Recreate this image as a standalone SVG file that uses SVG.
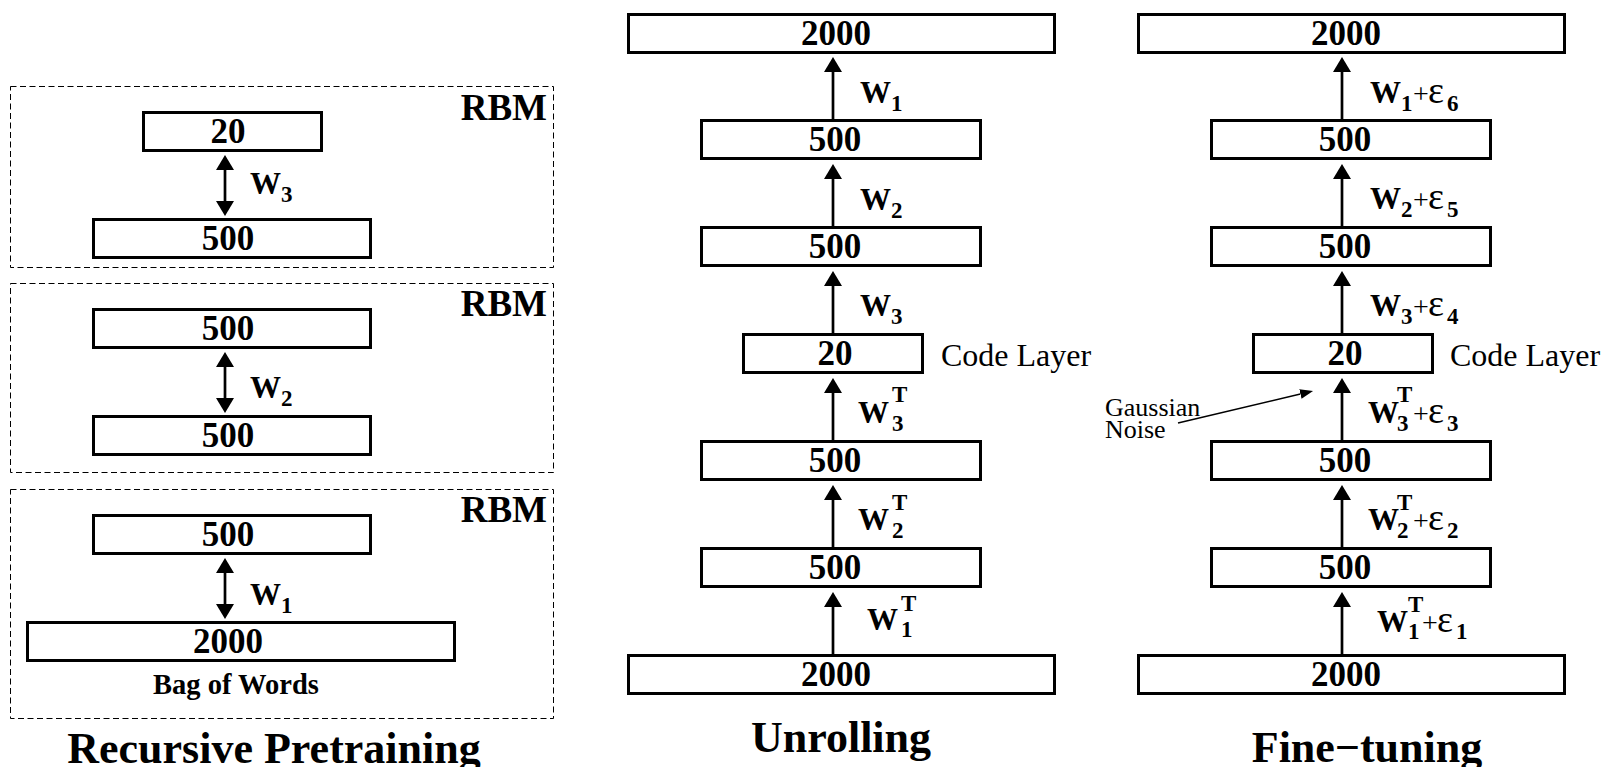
<svg xmlns="http://www.w3.org/2000/svg" width="1609" height="767" viewBox="0 0 1609 767">
<defs>
<style>
  .box{fill:#fff;stroke:#000;stroke-width:3}
  .rbm{fill:none;stroke:#000;stroke-width:1;stroke-dasharray:6 3.5}
  text{font-family:"Liberation Serif","Times New Roman",serif;fill:#000}
  .num{font-weight:bold;font-size:35px;text-anchor:middle}
  .w{font-weight:bold;font-size:31px}
  .s{font-weight:bold;font-size:23px}
  .plus{font-size:28px}
  .eps{font-size:38px}
  .tag{font-weight:bold;font-size:37px;text-anchor:end}
  .title{font-weight:bold;font-size:44px;text-anchor:middle}
  .note{font-size:32px}
  .small{font-size:26px}
  .cap{font-weight:bold;font-size:28.5px;text-anchor:middle}
  .edge{stroke:#000;stroke-width:2.7;fill:none}
  .thin{stroke:#000;stroke-width:1.5;fill:none}
</style>
<marker id="head" viewBox="0 0 15 18" refX="0" refY="9" markerWidth="15" markerHeight="18" markerUnits="userSpaceOnUse" orient="auto-start-reverse"><path d="M0,0 L15,9 L0,18 z"/></marker>
<marker id="headSmall" viewBox="0 0 13 10" refX="0" refY="5" markerWidth="13" markerHeight="10" markerUnits="userSpaceOnUse" orient="auto"><path d="M0,0 L13,5 L0,10 z"/></marker>
</defs>
<rect width="1609" height="767" fill="#fff"/>

<!-- Recursive pretraining: three stacked RBMs -->
<g id="rbm3">
  <rect class="rbm" x="10.5" y="86.5" width="543" height="181"/>
  <text class="tag" x="547" y="120">RBM</text>
</g>
<g id="rbm2">
  <rect class="rbm" x="10.5" y="283.5" width="543" height="189"/>
  <text class="tag" x="547" y="316">RBM</text>
</g>
<g id="rbm1">
  <rect class="rbm" x="10.5" y="489.5" width="543" height="229"/>
  <text class="tag" x="547" y="522">RBM</text>
</g>

<g id="p-code20">
  <rect class="box" x="143.5" y="112.5" width="178" height="38"/>
  <text class="num" x="228" y="143">20</text>
</g>
<g id="p-h3">
  <rect class="box" x="93.5" y="219.5" width="277" height="38"/>
  <text class="num" x="228" y="250">500</text>
</g>
<g id="p-h2b">
  <rect class="box" x="93.5" y="309.5" width="277" height="38"/>
  <text class="num" x="228" y="340">500</text>
</g>
<g id="p-h2a">
  <rect class="box" x="93.5" y="416.5" width="277" height="38"/>
  <text class="num" x="228" y="447">500</text>
</g>
<g id="p-h1">
  <rect class="box" x="93.5" y="515.5" width="277" height="38"/>
  <text class="num" x="228" y="546">500</text>
</g>
<g id="p-input">
  <rect class="box" x="27.5" y="622.5" width="427" height="38"/>
  <text class="num" x="228" y="653">2000</text>
  <text class="cap" x="236" y="694">Bag of Words</text>
</g>
<g id="p-labels">
  <text class="w" x="250" y="194">W</text><text class="s" x="281" y="202">3</text>
  <text class="w" x="250" y="398">W</text><text class="s" x="281" y="406">2</text>
  <text class="w" x="250" y="605">W</text><text class="s" x="281" y="613">1</text>
  <text class="title" x="274" y="763">Recursive Pretraining</text>
</g>

<!-- Unrolled encoder/decoder stack -->
<g id="u-out">
  <rect class="box" x="628.5" y="14.5" width="426" height="38"/>
  <text class="num" x="836" y="45">2000</text>
</g>
<g id="u-d1">
  <rect class="box" x="701.5" y="120.5" width="279" height="38"/>
  <text class="num" x="835" y="151">500</text>
</g>
<g id="u-d2">
  <rect class="box" x="701.5" y="227.5" width="279" height="38"/>
  <text class="num" x="835" y="258">500</text>
</g>
<g id="u-code">
  <rect class="box" x="743.5" y="334.5" width="179" height="38"/>
  <text class="num" x="835" y="365">20</text>
  <text class="note" x="941" y="366">Code Layer</text>
</g>
<g id="u-e2">
  <rect class="box" x="701.5" y="441.5" width="279" height="38"/>
  <text class="num" x="835" y="472">500</text>
</g>
<g id="u-e1">
  <rect class="box" x="701.5" y="548.5" width="279" height="38"/>
  <text class="num" x="835" y="579">500</text>
</g>
<g id="u-in">
  <rect class="box" x="628.5" y="655.5" width="426" height="38"/>
  <text class="num" x="836" y="686">2000</text>
</g>
<g id="u-labels">
  <text class="w" x="860" y="103">W</text><text class="s" x="891" y="111">1</text>
  <text class="w" x="860" y="210">W</text><text class="s" x="891" y="218">2</text>
  <text class="w" x="860" y="316">W</text><text class="s" x="891" y="324">3</text>
  <text class="w" x="858" y="423">W</text><text class="s" x="892" y="402">T</text><text class="s" x="892" y="431">3</text>
  <text class="w" x="858" y="530">W</text><text class="s" x="892" y="510">T</text><text class="s" x="892" y="538">2</text>
  <text class="w" x="867" y="630">W</text><text class="s" x="901" y="611">T</text><text class="s" x="901" y="637">1</text>
  <text class="title" x="841" y="752">Unrolling</text>
</g>

<!-- Fine-tuned stack -->
<g id="f-out">
  <rect class="box" x="1138.5" y="14.5" width="426" height="38"/>
  <text class="num" x="1346" y="45">2000</text>
</g>
<g id="f-d1">
  <rect class="box" x="1211.5" y="120.5" width="279" height="38"/>
  <text class="num" x="1345" y="151">500</text>
</g>
<g id="f-d2">
  <rect class="box" x="1211.5" y="227.5" width="279" height="38"/>
  <text class="num" x="1345" y="258">500</text>
</g>
<g id="f-code">
  <rect class="box" x="1253.5" y="334.5" width="179" height="38"/>
  <text class="num" x="1345" y="365">20</text>
  <text class="note" x="1450" y="366">Code Layer</text>
</g>
<g id="f-e2">
  <rect class="box" x="1211.5" y="441.5" width="279" height="38"/>
  <text class="num" x="1345" y="472">500</text>
</g>
<g id="f-e1">
  <rect class="box" x="1211.5" y="548.5" width="279" height="38"/>
  <text class="num" x="1345" y="579">500</text>
</g>
<g id="f-in">
  <rect class="box" x="1138.5" y="655.5" width="426" height="38"/>
  <text class="num" x="1346" y="686">2000</text>
</g>
<g id="f-noise">
  <text class="small" x="1105" y="416">Gaussian</text>
  <text class="small" x="1105" y="438">Noise</text>
</g>
<g id="f-labels">
  <text class="w" x="1370" y="103">W</text><text class="s" x="1401" y="111">1</text><text class="plus" x="1413" y="103">+</text><text class="eps" x="1428" y="103">ε</text><text class="s" x="1447" y="111">6</text>
  <text class="w" x="1370" y="209">W</text><text class="s" x="1401" y="217">2</text><text class="plus" x="1413" y="209">+</text><text class="eps" x="1428" y="209">ε</text><text class="s" x="1447" y="217">5</text>
  <text class="w" x="1370" y="316">W</text><text class="s" x="1401" y="324">3</text><text class="plus" x="1413" y="316">+</text><text class="eps" x="1428" y="316">ε</text><text class="s" x="1447" y="324">4</text>
  <text class="w" x="1368" y="423">W</text><text class="s" x="1397" y="402">T</text><text class="s" x="1397" y="431">3</text><text class="plus" x="1413" y="423">+</text><text class="eps" x="1428" y="423">ε</text><text class="s" x="1447" y="431">3</text>
  <text class="w" x="1368" y="530">W</text><text class="s" x="1397" y="510">T</text><text class="s" x="1397" y="538">2</text><text class="plus" x="1413" y="530">+</text><text class="eps" x="1428" y="530">ε</text><text class="s" x="1447" y="538">2</text>
  <text class="w" x="1377" y="632">W</text><text class="s" x="1408" y="612">T</text><text class="s" x="1408" y="639">1</text><text class="plus" x="1422" y="632">+</text><text class="eps" x="1437" y="632">ε</text><text class="s" x="1456" y="639">1</text>
  <text class="title" x="1367" y="762">Fine−tuning</text>
</g>

<!-- Connectors -->
<g id="connectors">
  <line class="edge" x1="225" y1="170" x2="225" y2="201" marker-start="url(#head)" marker-end="url(#head)"/>
  <line class="edge" x1="225" y1="367" x2="225" y2="398" marker-start="url(#head)" marker-end="url(#head)"/>
  <line class="edge" x1="225" y1="573" x2="225" y2="604" marker-start="url(#head)" marker-end="url(#head)"/>

  <line class="edge" x1="833" y1="654" x2="833" y2="607" marker-end="url(#head)"/>
  <line class="edge" x1="833" y1="547" x2="833" y2="500" marker-end="url(#head)"/>
  <line class="edge" x1="833" y1="440" x2="833" y2="393" marker-end="url(#head)"/>
  <line class="edge" x1="833" y1="333" x2="833" y2="286" marker-end="url(#head)"/>
  <line class="edge" x1="833" y1="226" x2="833" y2="179" marker-end="url(#head)"/>
  <line class="edge" x1="833" y1="119" x2="833" y2="72" marker-end="url(#head)"/>

  <line class="edge" x1="1342" y1="654" x2="1342" y2="607" marker-end="url(#head)"/>
  <line class="edge" x1="1342" y1="547" x2="1342" y2="500" marker-end="url(#head)"/>
  <line class="edge" x1="1342" y1="440" x2="1342" y2="393" marker-end="url(#head)"/>
  <line class="edge" x1="1342" y1="333" x2="1342" y2="286" marker-end="url(#head)"/>
  <line class="edge" x1="1342" y1="226" x2="1342" y2="179" marker-end="url(#head)"/>
  <line class="edge" x1="1342" y1="119" x2="1342" y2="72" marker-end="url(#head)"/>

  <line class="thin" x1="1178" y1="423" x2="1300.4" y2="394" marker-end="url(#headSmall)"/>
</g>
</svg>
